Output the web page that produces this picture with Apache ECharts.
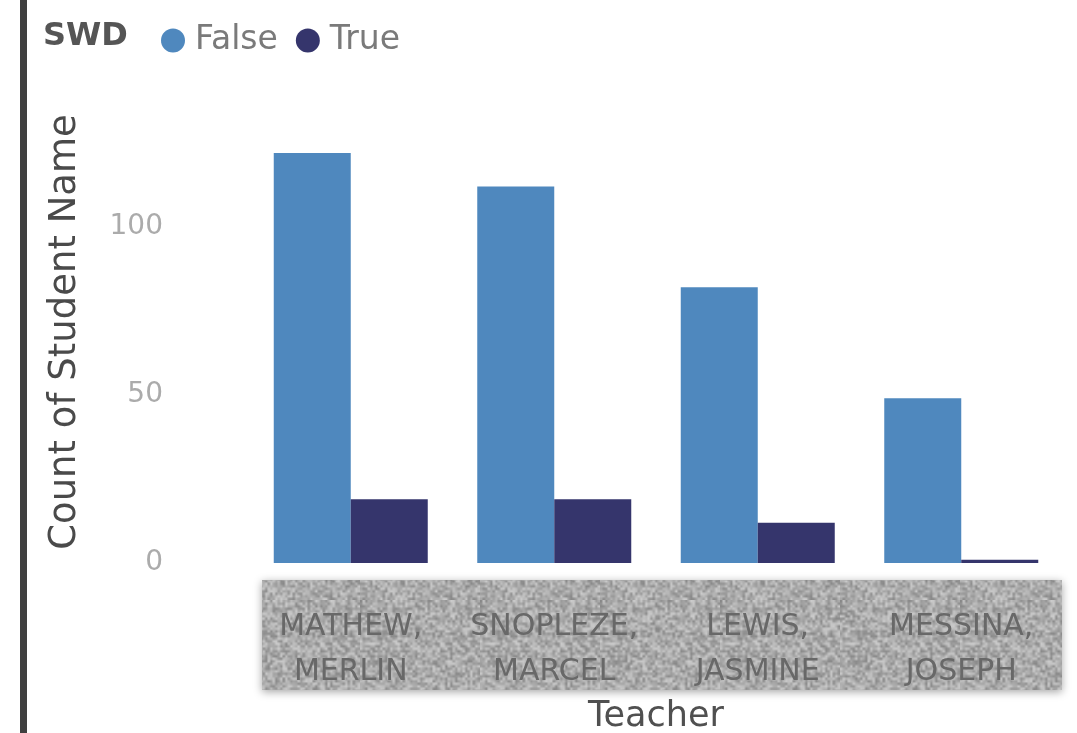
<!DOCTYPE html>
<html>
<head>
<meta charset="utf-8">
<title>Count of Student Name by Teacher and SWD</title>
<script src="https://cdn.jsdelivr.net/npm/echarts@6/dist/echarts.min.js"></script>
<style>
  html, body { margin: 0; padding: 0; background: #ffffff; }
  #chart { width: 1077px; height: 733px; }
</style>
</head>
<body>
<div id="chart"></div>
<script>
// Teachers on the category axis (two-line labels)
const teachers = ['MATHEW,\nMERLIN', 'SNOPLEZE,\nMARCEL', 'LEWIS,\nJASMINE', 'MESSINA,\nJOSEPH'];
// Student counts split by SWD flag
const swdFalse = [122, 112, 82, 49];
const swdTrue = [19, 19, 12, 1];
// Legend entries and value-axis ticks
const legendNames = ['False', 'True'];
const yTicks = [0, 50, 100];

const FONT = '"DejaVu Sans", "Open Sans", sans-serif';

// Soft grey speckle texture for the label panel behind the teacher names
function speckleTexture() {
  const small = document.createElement('canvas');
  small.width = 48; small.height = 48;
  const sctx = small.getContext('2d');
  const img = sctx.createImageData(48, 48);
  for (let y = 0; y < 48; y++) {
    for (let x = 0; x < 48; x++) {
      const h = Math.sin(x * 12.9898 + y * 78.233) * 43758.5453;
      const f = h - Math.floor(h);
      const g = Math.round(170 + (f - 0.5) * 70);
      const i = (y * 48 + x) * 4;
      img.data[i] = g; img.data[i + 1] = g; img.data[i + 2] = g; img.data[i + 3] = 255;
    }
  }
  sctx.putImageData(img, 0, 0);
  const big = document.createElement('canvas');
  big.width = 120; big.height = 120;
  const bctx = big.getContext('2d');
  bctx.imageSmoothingEnabled = true;
  bctx.drawImage(small, 0, 0, 120, 120);
  return big;
}

const chart = echarts.init(document.getElementById('chart'), null, { renderer: 'canvas' });

chart.setOption({
  backgroundColor: '#ffffff',
  animation: false,
  title: {
    text: 'SWD',
    left: 38,
    top: 16,
    textStyle: { fontFamily: FONT, fontSize: 32, fontWeight: 'bold', color: '#555555' }
  },
  legend: {
    data: legendNames,
    left: 156,
    top: 19,
    icon: 'circle',
    itemWidth: 24,
    itemHeight: 24,
    itemGap: 18,
    textStyle: { fontFamily: FONT, fontSize: 33, color: '#7a7a7a', padding: [0, 0, 0, 5] }
  },
  grid: { left: 249, right: 14, top: 126, bottom: 170, containLabel: false, outerBoundsMode: 'none' },
  xAxis: {
    type: 'category',
    data: teachers,
    name: 'Teacher',
    nameLocation: 'middle',
    nameGap: 135,
    nameTextStyle: { fontFamily: FONT, fontSize: 35, color: '#505050' },
    axisLine: { show: false },
    axisTick: { show: false },
    axisLabel: {
      margin: 42,
      fontFamily: FONT,
      fontSize: 30,
      lineHeight: 45,
      color: '#686868',
      interval: 0
    }
  },
  yAxis: {
    type: 'value',
    min: 0,
    max: 130,
    interval: 50,
    axisLine: { show: false },
    axisTick: { show: false },
    splitLine: { show: false },
    axisLabel: {
      margin: 86,
      showMaxLabel: false,
      fontFamily: FONT,
      fontSize: 28,
      color: '#ababab',
      formatter: v => (yTicks.indexOf(v) >= 0 ? String(v) : '')
    }
  },
  graphic: [
    {
      type: 'rect',
      z: -10,
      shape: { x: 20, y: 0, width: 7, height: 733 },
      style: { fill: '#3f3f3f' }
    },
    {
      type: 'rect',
      z: -10,
      shape: { x: 262, y: 580, width: 800, height: 110 },
      style: {
        fill: { image: speckleTexture(), repeat: 'repeat' },
        shadowBlur: 8,
        shadowColor: 'rgba(0,0,0,0.35)',
        shadowOffsetY: 2
      }
    },
    {
      // value-axis title
      type: 'text',
      x: 65,
      y: 332,
      rotation: Math.PI / 2,
      style: {
        text: 'Count of Student Name',
        fontFamily: FONT,
        fontSize: 37,
        fill: '#4a4a4a',
        align: 'center',
        verticalAlign: 'middle'
      }
    }
  ],
  series: [
    {
      name: legendNames[0],
      type: 'bar',
      data: swdFalse,
      barWidth: 77,
      barGap: '0%',
      itemStyle: { color: '#4f88be' }
    },
    {
      name: legendNames[1],
      type: 'bar',
      data: swdTrue,
      barWidth: 77,
      barGap: '0%',
      itemStyle: { color: '#35356c' }
    }
  ]
});
</script>
</body>
</html>
